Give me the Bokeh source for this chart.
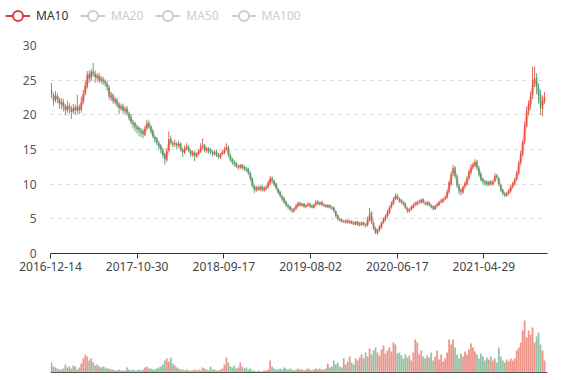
from bokeh.plotting import figure
from bokeh.models import (ColumnDataSource, Range1d, FixedTicker, Legend, LegendItem, Span)
from bokeh.layouts import column
from bokeh.embed import file_html
from bokeh.resources import INLINE

# ---------------- data (weekly bars) ----------------
label_dates = ["2016-12-14", "2017-10-30", "2018-09-17", "2019-08-02", "2020-06-17", "2021-04-29"]
label_day_index = [0, 218, 436, 654, 872, 1090]   # trading-day index of each labelled date
total_days = 1250
days_per_bar = 5

open_ = [
    23.6, 22.9, 22.1, 22.7, 22.2, 21.5, 21.9, 21.1, 20.7, 21.2,
    20.8, 20.5, 21.1, 20.6, 21.1, 20.7, 21.9, 23.1, 24.1, 25.9,
    25.2, 26.3, 25.9, 25.3, 25.7, 24.9, 25.1, 24.9, 24.5, 23.9,
    22.5, 22.9, 21.9, 22.1, 21.5, 20.9, 21.3, 20.5, 20.9, 20.2,
    19.7, 18.9, 18.8, 18.2, 18.1, 17.7, 17.6, 17.1, 18.1, 18.9,
    18.3, 17.7, 16.8, 16.6, 15.9, 15.5, 14.9, 14.3, 13.5, 14.9,
    16.6, 15.9, 15.8, 15.8, 15.5, 15.9, 14.9, 14.5, 15.3, 15.3,
    14.8, 14.2, 14.6, 14.0, 14.4, 14.7, 15.4, 15.7, 14.8, 15.2,
    14.9, 14.6, 14.3, 14.7, 14.1, 13.9, 14.4, 14.5, 15.1, 15.4,
    14.1, 13.6, 13.1, 13.0, 12.5, 12.4, 12.8, 12.5, 12.2, 12.2,
    11.6, 10.9, 9.7, 9.1, 9.6, 9.2, 9.7, 9.1, 9.3, 9.6,
    10.1, 10.9, 10.4, 10.1, 9.3, 8.9, 8.2, 8.0, 7.5, 6.9,
    6.8, 6.3, 6.1, 6.5, 6.8, 7.3, 6.9, 7.2, 6.7, 7.0,
    7.2, 6.9, 6.6, 7.1, 7.5, 7.1, 7.4, 7.0, 7.0, 6.7,
    7.0, 6.6, 6.6, 6.1, 5.5, 4.9, 4.9, 4.6, 4.5, 4.8,
    4.4, 4.7, 4.5, 4.2, 4.6, 4.1, 4.2, 4.5, 4.1, 4.0,
    4.8, 5.9, 4.4, 3.7, 2.9, 3.4, 3.8, 4.5, 4.9, 5.4,
    5.9, 6.7, 7.1, 7.9, 8.4, 7.8, 7.7, 7.3, 7.2, 6.5,
    6.1, 6.4, 6.6, 7.1, 7.1, 7.5, 7.4, 7.8, 7.3, 7.1,
    7.4, 6.9, 6.8, 6.4, 6.9, 7.0, 7.5, 7.5, 7.9, 8.1,
    8.9, 10.0, 11.6, 12.4, 11.1, 9.7, 9.1, 8.8, 9.7, 10.0,
    10.9, 11.7, 12.5, 12.7, 13.3, 12.3, 11.5, 10.7, 10.3, 10.3,
    9.9, 10.4, 10.0, 10.4, 11.3, 10.9, 9.9, 9.2, 8.6, 8.3,
    8.7, 9.0, 9.7, 10.0, 10.7, 11.5, 13.1, 14.3, 16.1, 18.4,
    20.6, 21.5, 22.8, 24.6, 25.4, 23.9, 22.9, 20.8, 22.1,
]

close = [
    23.0, 22.0, 22.8, 22.3, 21.6, 21.8, 21.2, 20.6, 21.3, 20.9,
    20.4, 21.0, 20.7, 21.2, 20.6, 21.8, 23.0, 24.2, 25.8, 25.3,
    26.2, 26.0, 25.4, 25.6, 25.0, 25.2, 24.8, 24.6, 24.0, 22.6,
    22.8, 22.0, 22.2, 21.4, 21.0, 21.2, 20.6, 20.8, 20.3, 19.6,
    19.0, 18.7, 18.3, 18.0, 17.8, 17.5, 17.2, 18.0, 18.8, 18.4,
    17.6, 16.9, 16.5, 16.0, 15.4, 15.0, 14.2, 13.6, 14.8, 16.5,
    16.0, 15.7, 15.9, 15.6, 15.8, 15.0, 14.6, 15.2, 15.4, 14.9,
    14.3, 14.5, 14.1, 14.3, 14.8, 15.3, 15.6, 14.9, 15.1, 14.8,
    14.7, 14.4, 14.6, 14.2, 14.0, 14.3, 14.6, 15.0, 15.3, 14.2,
    13.5, 13.2, 12.9, 12.6, 12.5, 12.7, 12.4, 12.3, 12.1, 11.7,
    10.8, 9.8, 9.2, 9.5, 9.3, 9.6, 9.2, 9.4, 9.5, 10.2,
    10.8, 10.5, 10.0, 9.4, 8.8, 8.3, 7.9, 7.4, 7.0, 6.7,
    6.4, 6.2, 6.4, 6.9, 7.2, 7.0, 7.1, 6.8, 6.9, 7.1,
    6.8, 6.7, 7.0, 7.4, 7.2, 7.3, 7.1, 6.9, 6.8, 6.9,
    6.7, 6.5, 6.2, 5.4, 5.0, 4.8, 4.7, 4.6, 4.7, 4.5,
    4.6, 4.4, 4.3, 4.5, 4.2, 4.3, 4.4, 4.2, 4.0, 4.9,
    5.8, 4.5, 3.6, 3.0, 3.3, 3.9, 4.4, 5.0, 5.3, 6.0,
    6.6, 7.2, 7.8, 8.3, 7.9, 7.6, 7.4, 7.1, 6.6, 6.2,
    6.3, 6.7, 7.0, 7.2, 7.4, 7.5, 7.7, 7.4, 7.2, 7.3,
    7.0, 6.7, 6.5, 6.8, 7.1, 7.4, 7.6, 7.8, 8.0, 8.8,
    10.2, 11.4, 12.3, 11.2, 9.8, 9.0, 8.9, 9.6, 10.1, 10.8,
    11.8, 12.4, 12.8, 13.2, 12.4, 11.4, 10.6, 10.4, 10.2, 10.0,
    10.3, 10.1, 10.3, 11.2, 11.0, 10.0, 9.1, 8.7, 8.4, 8.6,
    9.1, 9.6, 10.1, 10.6, 11.6, 13.0, 14.4, 16.0, 18.5, 20.5,
    21.6, 22.6, 24.8, 25.2, 24.0, 22.8, 21.0, 22.0, 22.6,
]

high = [
    24.6, 23.2, 23.4, 23.1, 22.5, 22.4, 22.3, 21.5, 22.0, 21.7,
    21.3, 21.6, 21.5, 22.9, 21.5, 22.6, 23.6, 24.8, 26.3, 26.4,
    26.6, 27.5, 26.4, 26.0, 26.1, 25.6, 25.5, 25.1, 24.8, 24.2,
    23.3, 23.1, 22.6, 22.4, 21.8, 21.6, 21.6, 21.2, 21.3, 20.4,
    20.1, 19.3, 19.0, 18.6, 18.4, 18.1, 18.0, 18.4, 19.3, 19.2,
    18.5, 17.9, 17.0, 16.8, 16.2, 15.8, 15.2, 14.5, 15.2, 17.6,
    17.0, 16.2, 16.4, 16.1, 16.3, 16.0, 15.1, 15.6, 15.9, 15.6,
    15.0, 14.9, 14.8, 14.6, 15.0, 15.9, 16.6, 15.8, 15.4, 15.4,
    15.2, 14.9, 14.9, 15.0, 14.5, 14.5, 14.9, 15.4, 15.9, 15.6,
    14.3, 13.8, 13.4, 13.2, 12.8, 12.9, 12.9, 12.7, 12.5, 12.4,
    11.8, 11.0, 9.9, 9.8, 9.8, 9.8, 9.9, 9.7, 9.8, 10.5,
    11.2, 11.1, 10.6, 10.2, 9.4, 9.0, 8.4, 8.1, 7.6, 7.1,
    6.9, 6.5, 6.6, 7.1, 7.5, 7.5, 7.3, 7.3, 7.1, 7.4,
    7.3, 7.0, 7.2, 7.7, 7.7, 7.5, 7.6, 7.2, 7.1, 7.1,
    7.1, 6.8, 6.8, 6.2, 5.6, 5.1, 5.0, 4.8, 4.9, 4.9,
    4.8, 4.8, 4.6, 4.7, 4.7, 4.5, 4.6, 4.6, 4.3, 5.3,
    6.6, 6.1, 4.6, 3.8, 3.5, 4.1, 4.6, 5.2, 5.6, 6.3,
    6.9, 7.5, 8.1, 8.7, 8.6, 8.1, 7.9, 7.6, 7.4, 6.7,
    6.5, 6.9, 7.2, 7.5, 7.6, 7.8, 7.9, 8.0, 7.5, 7.6,
    7.5, 7.1, 6.9, 7.0, 7.3, 7.6, 7.9, 8.0, 8.3, 9.2,
    10.5, 11.8, 12.8, 12.6, 11.4, 10.0, 9.4, 9.8, 10.4, 11.1,
    12.1, 12.9, 13.1, 13.6, 13.5, 12.6, 11.7, 10.9, 10.6, 10.6,
    10.5, 10.6, 10.5, 11.6, 11.5, 11.0, 9.9, 9.3, 8.8, 8.9,
    9.3, 9.9, 10.3, 10.9, 11.9, 13.3, 14.8, 16.4, 19.0, 21.2,
    22.1, 23.4, 26.9, 27.0, 26.0, 24.5, 23.6, 22.8, 23.3,
]

low = [
    22.4, 21.3, 21.8, 21.7, 20.9, 20.8, 20.5, 19.9, 20.3, 20.2,
    19.4, 20.1, 20.0, 20.2, 20.1, 20.3, 21.6, 22.8, 23.8, 24.6,
    24.9, 25.5, 24.6, 24.8, 24.6, 24.5, 24.3, 24.1, 23.5, 22.2,
    22.0, 21.6, 21.5, 21.1, 20.1, 20.6, 20.2, 20.1, 19.9, 19.2,
    18.6, 18.0, 17.6, 17.3, 16.9, 16.8, 16.6, 16.9, 17.8, 18.0,
    17.3, 16.6, 16.0, 15.6, 15.0, 14.4, 13.8, 12.8, 13.2, 14.7,
    15.7, 15.3, 15.4, 15.0, 15.2, 14.7, 13.9, 14.3, 14.9, 14.6,
    13.9, 13.9, 13.3, 13.8, 14.2, 14.5, 15.1, 14.6, 14.5, 14.4,
    14.3, 14.0, 14.1, 13.9, 13.6, 13.6, 14.2, 14.3, 14.8, 13.9,
    13.2, 12.8, 12.5, 12.3, 12.1, 12.2, 12.1, 11.9, 11.8, 11.4,
    10.5, 9.5, 8.7, 8.9, 9.0, 9.0, 8.9, 8.9, 9.1, 9.4,
    9.9, 10.1, 9.7, 9.2, 8.6, 8.1, 7.6, 7.2, 6.7, 6.4,
    6.1, 5.8, 5.9, 6.3, 6.7, 6.8, 6.8, 6.6, 6.5, 6.8,
    6.6, 6.5, 6.5, 6.9, 7.0, 6.9, 6.9, 6.7, 6.6, 6.5,
    6.5, 6.3, 6.0, 5.2, 4.8, 4.6, 4.5, 4.4, 4.3, 4.3,
    4.3, 4.2, 4.1, 4.1, 4.0, 3.9, 4.0, 4.0, 3.7, 3.9,
    4.6, 4.3, 3.4, 2.8, 2.7, 3.2, 3.6, 4.3, 4.7, 5.2,
    5.7, 6.5, 7.0, 7.7, 7.7, 7.3, 7.2, 6.9, 6.4, 5.8,
    5.9, 6.2, 6.5, 6.9, 6.9, 7.2, 7.2, 7.2, 6.9, 6.9,
    6.8, 6.5, 6.2, 6.3, 6.7, 6.9, 7.3, 7.3, 7.7, 7.9,
    8.7, 9.8, 11.2, 10.9, 9.5, 8.5, 8.4, 8.6, 9.4, 9.8,
    10.6, 11.4, 12.2, 12.4, 12.1, 11.1, 10.4, 10.0, 9.8, 9.7,
    9.7, 9.8, 9.8, 10.3, 10.8, 9.8, 8.9, 8.4, 8.1, 8.2,
    8.5, 8.8, 9.4, 9.8, 10.5, 11.3, 12.8, 14.0, 15.8, 18.2,
    19.9, 20.8, 22.3, 24.0, 23.0, 21.6, 20.0, 19.8, 21.6,
]

volume = [
    10, 6, 5, 4, 3, 3, 4, 8, 5, 6,
    4, 7, 6, 3, 5, 9, 14, 18, 16, 12,
    14, 10, 7, 8, 6, 5, 6, 5, 4, 4,
    3, 3, 2, 2, 3, 2, 2, 2, 5, 3,
    2, 3, 2, 2, 3, 2, 3, 5, 6, 4,
    4, 3, 3, 4, 5, 6, 8, 12, 14, 11,
    15, 9, 7, 5, 4, 3, 3, 2, 3, 2,
    2, 2, 3, 2, 3, 2, 5, 4, 3, 2,
    6, 3, 3, 2, 2, 3, 4, 8, 15, 10,
    6, 5, 7, 4, 5, 10, 6, 4, 5, 3,
    4, 2, 2, 1, 2, 1, 1, 2, 2, 3,
    12, 6, 4, 3, 3, 4, 3, 5, 4, 3,
    4, 3, 2, 3, 4, 3, 3, 2, 3, 4,
    3, 2, 3, 4, 3, 4, 3, 3, 4, 9,
    5, 6, 12, 8, 10, 6, 5, 14, 8, 11,
    16, 10, 8, 14, 12, 15, 18, 14, 20, 16,
    24, 18, 22, 25, 20, 17, 23, 27, 19, 22,
    25, 21, 30, 28, 19, 20, 17, 14, 18, 15,
    17, 12, 20, 33, 30, 18, 22, 16, 14, 17,
    15, 20, 12, 16, 22, 13, 18, 11, 14, 20,
    33, 28, 33, 25, 18, 14, 19, 16, 21, 18,
    23, 29, 25, 21, 18, 14, 19, 16, 12, 15,
    13, 16, 12, 14, 10, 25, 16, 12, 10, 13,
    11, 14, 12, 14, 22, 25, 30, 42, 52, 35,
    42, 38, 45, 30, 36, 40, 28, 22, 12,
]

ma_names = ["MA10", "MA20", "MA50", "MA100"]

# ---------------- derived sources ----------------
n = min(len(open_), len(close), len(high), len(low), len(volume))
UP = "#e0503f"
DOWN = "#4e9a6c"
FONT = "Noto Sans"
W = 577


def build(sel):
    d = dict(x=[], top=[], bottom=[], hi=[], lo=[], vol=[])
    for i in range(n):
        rising = close[i] >= open_[i]
        if rising != sel:
            continue
        d["x"].append(days_per_bar * i + days_per_bar / 2)
        d["top"].append(max(open_[i], close[i]))
        d["bottom"].append(min(open_[i], close[i]))
        d["hi"].append(high[i])
        d["lo"].append(low[i])
        d["vol"].append(volume[i])
    return ColumnDataSource(d)


src_up = build(True)
src_dn = build(False)

# MA10 ~ two weekly bars (10 trading days)
ma_x, ma_y = [], []
for i in range(1, n):
    ma_x.append(days_per_bar * i + days_per_bar / 2)
    ma_y.append((close[i] + close[i - 1]) / 2)

# ---------------- legend strip ----------------
pl = figure(width=W, height=30, x_range=Range1d(0, 1), y_range=Range1d(0, 1),
            output_backend="svg", toolbar_location=None, frame_align=False,
            min_border_left=0, min_border_right=0, min_border_top=0, min_border_bottom=0)
pl.outline_line_color = None
pl.xaxis.visible = False
pl.yaxis.visible = False
pl.grid.visible = False

MA_COL = "#d9413a"
GREY = "#cccccc"
leg_items_on = []
leg_items_off = []
for k, name in enumerate(ma_names):
    c = MA_COL if k == 0 else GREY
    # icon renderers: one point lying outside the visible range
    rl = pl.line(x=[-5, -4], y=[-5, -5], line_color=c, line_width=2)
    rc = pl.scatter(x=[-5], y=[-5], marker="circle", size=10, fill_color="white", line_color=c, line_width=2)
    item = LegendItem(label=name, renderers=[rl, rc])
    (leg_items_on if k == 0 else leg_items_off).append(item)

common = dict(orientation="horizontal", glyph_width=25, glyph_height=25, label_standoff=6,
              padding=0, margin=0, spacing=12, border_line_color=None, background_fill_alpha=0,
              label_text_font_size="12px", label_text_font=FONT, label_height=14)
leg1 = Legend(items=leg_items_on, location=(5, 2.5), label_text_color="#333333", **common)
leg2 = Legend(items=leg_items_off, location=(80, 2.5), label_text_color=GREY, **common)
pl.add_layout(leg1)
pl.add_layout(leg2)

# ---------------- main candlestick figure ----------------
p = figure(width=W, height=250, x_range=Range1d(0, total_days), y_range=Range1d(0, 30),
           output_backend="svg", toolbar_location=None,
           min_border_left=50, min_border_right=30, min_border_top=15, min_border_bottom=27)
p.outline_line_color = None

p.xaxis.ticker = FixedTicker(ticks=label_day_index)
p.xaxis.major_label_overrides = {k: v for k, v in zip(label_day_index, label_dates)}
p.xaxis.axis_line_color = "#333333"
p.xaxis.major_tick_line_color = "#333333"
p.xaxis.major_tick_out = 5
p.xaxis.major_tick_in = 0
p.xaxis.minor_tick_line_color = None
p.xaxis.major_label_standoff = 3
p.xaxis.major_label_text_font_size = "12px"
p.xaxis.major_label_text_color = "#444444"
p.xaxis.major_label_text_font = FONT
p.xgrid.visible = False

p.yaxis.ticker = FixedTicker(ticks=[0, 5, 10, 15, 20, 25, 30])
p.yaxis.axis_line_color = None
p.yaxis.major_tick_line_color = None
p.yaxis.minor_tick_line_color = None
p.yaxis.major_label_standoff = 8
p.yaxis.major_label_text_font_size = "12px"
p.yaxis.major_label_text_color = "#555555"
p.yaxis.major_label_text_font = FONT
p.ygrid.grid_line_color = "#dcdcdc"
p.ygrid.grid_line_dash = "4 4"

p.line(ma_x, ma_y, line_color="#ee6a5e", line_alpha=0.4, line_width=3)

for src, col in ((src_up, UP), (src_dn, DOWN)):
    p.segment(x0="x", y0="lo", x1="x", y1="hi", source=src, line_color=col, line_width=1, line_alpha=0.85)
    p.vbar(x="x", width=days_per_bar * 0.75, top="top", bottom="bottom", source=src,
           fill_color=col, line_color=None, fill_alpha=0.85)

# ---------------- volume figure ----------------
vmax = max(volume[:n])
p2 = figure(width=W, height=100, x_range=p.x_range,
            y_range=Range1d(-vmax * 8 / 52, vmax * 92 / 52),
            output_backend="svg", toolbar_location=None,
            min_border_left=50, min_border_right=30, min_border_top=0, min_border_bottom=0)
p2.outline_line_color = None
p2.xaxis.visible = False
p2.yaxis.visible = False
p2.grid.visible = False
for src, col in ((src_up, UP), (src_dn, DOWN)):
    p2.vbar(x="x", width=days_per_bar * 0.9, top="vol", bottom=0, source=src,
            fill_color=col, line_color=None, fill_alpha=0.6)
p2.add_layout(Span(location=0, dimension="width", line_color="#555555", line_width=1))

layout = column(pl, p, p2)
open("out.html", "w").write(file_html(layout, INLINE))
